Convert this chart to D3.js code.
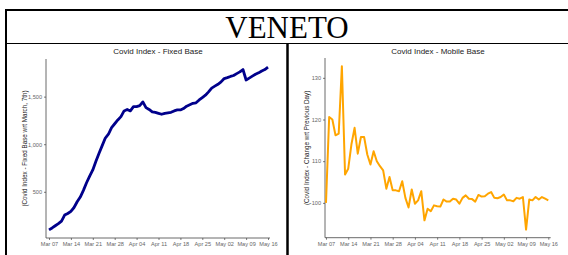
<!DOCTYPE html>
<html><head><meta charset="utf-8">
<script src="https://cdn.jsdelivr.net/npm/d3@7"></script>
<style>body{margin:0;background:#fff}svg{display:block}</style>
</head><body><svg id="c" width="568" height="255"></svg>
<script>
const regionTitle = "VENETO";
const chartTitles = ["Covid Index - Fixed Base", "Covid Index - Mobile Base"];
const yAxisTitles = ["(Covid Index - Fixed Base wrt March, 7th)", "(Covid Index - Change wrt Previous Day)"];
const firstDay = "2020-03-07";
const xTickLabels = ["Mar 07","Mar 14","Mar 21","Mar 28","Apr 04","Apr 11","Apr 18","Apr 25","May 02","May 09","May 16"];
const fixedTicks = [500, 1000, 1500];
const mobileTicks = [100, 110, 120, 130];
const fixedBase = [100,120,143,165,192,255,272,295,335,395,445,515,595,665,730,820,905,985,1065,1105,
  1175,1215,1255,1290,1350,1365,1350,1395,1395,1405,1445,1385,1365,1340,1335,1325,1315,1325,1330,1335,
  1350,1360,1360,1375,1400,1415,1430,1435,1465,1490,1515,1550,1590,1610,1630,1655,1690,1700,1712,1722,
  1742,1760,1785,1675,1695,1715,1735,1750,1770,1785,1810];
const mobileBase = [100,120.6,120,116.2,116.6,132.8,106.8,108.2,114,118,111.8,115.8,115.8,111.6,109.2,112.4,110,108.8,107.8,103.4,
  106.2,103,103,102.8,105.2,101.2,98.9,103.2,99.8,100.6,102.8,95.8,98.6,98,99.4,99.2,99.1,100.8,100.3,100.3,
  101,100.8,99.8,101.2,101.8,101,100.9,100.3,101.9,101.5,101.6,102.2,102.6,101.2,101.1,101.4,102,100.6,100.6,100.4,
  101.2,101,101.4,93.6,100.8,100.6,101.4,100.8,101.4,101,100.6];

const svg = d3.select("#c");
const parseDay = d3.timeParse("%Y-%m-%d");
const parseTick = d3.timeParse("%b %d %Y");
const start = parseDay(firstDay);
const tickDates = xTickLabels.map(l => parseTick(l + " 2020"));

// table frame
const frame = svg.append("g").attr("stroke", "#000").attr("fill", "none");
frame.append("line").attr("x1", 5).attr("x2", 568).attr("y1", 10).attr("y2", 10).attr("stroke-width", 2);
frame.append("line").attr("x1", 6).attr("x2", 6).attr("y1", 9).attr("y2", 255).attr("stroke-width", 2);
frame.append("line").attr("x1", 6).attr("x2", 568).attr("y1", 43.5).attr("y2", 43.5).attr("stroke-width", 1.2);
frame.append("line").attr("x1", 287.5).attr("x2", 287.5).attr("y1", 43).attr("y2", 255).attr("stroke-width", 2.5);

svg.append("text").attr("x", 287).attr("y", 38).attr("text-anchor", "middle")
  .attr("font-family", "'Liberation Serif','Times New Roman',serif").attr("font-size", 31)
  .attr("fill", "#000").text(regionTitle);

function drawChart(cfg) {
  const g = svg.append("g").attr("font-family", "'Liberation Sans',Arial,sans-serif");
  const values = cfg.values;
  const days = values.map((v, i) => d3.timeDay.offset(start, i));
  const x = d3.scaleTime().domain([tickDates[0], tickDates[tickDates.length - 1]]).range(cfg.xTickRange);
  const [lo, hi] = d3.extent(values);
  const pad = (hi - lo) * 0.05;
  const y = d3.scaleLinear().domain([lo - pad, hi + pad]).range([cfg.bottom, cfg.top]);

  g.append("text").attr("x", cfg.titleX).attr("y", 54).attr("text-anchor", "middle")
    .attr("font-size", 8).attr("fill", "#222").text(cfg.title);

  const xa = g.append("g").attr("transform", `translate(0,${cfg.bottom})`)
    .call(d3.axisBottom(x).tickValues(tickDates).tickFormat((d, i) => xTickLabels[i]).tickSizeOuter(0).tickSize(2).tickPadding(2));
  xa.select(".domain").attr("d", `M${cfg.axisLeft},0H${cfg.axisRight}`).attr("stroke", "#444").attr("stroke-width", 0.8);
  xa.selectAll(".tick line").attr("stroke", "#444").attr("stroke-width", 0.7);
  xa.selectAll("text").attr("font-size", 5.6).attr("fill", "#666").attr("font-family", "'Liberation Sans',Arial,sans-serif");

  const ya = g.append("g").attr("transform", `translate(${cfg.axisLeft},0)`)
    .call(d3.axisLeft(y).tickValues(cfg.ticks).tickSizeOuter(0).tickSize(2).tickPadding(2));
  ya.select(".domain").attr("d", `M0,${cfg.top}V${cfg.bottom}`).attr("stroke", "#444").attr("stroke-width", 0.8);
  ya.selectAll(".tick line").attr("stroke", "#444").attr("stroke-width", 0.7);
  ya.selectAll("text").attr("font-size", 5.6).attr("fill", "#666").attr("font-family", "'Liberation Sans',Arial,sans-serif");

  const cy = (cfg.top + cfg.bottom) / 2;
  g.append("text").attr("transform", `translate(${cfg.yTitleX},${cy}) rotate(-90)`)
    .attr("text-anchor", "middle").attr("font-size", 6.3).attr("fill", "#222").text(cfg.yTitle);

  const line = d3.line().x((d, i) => x(days[i])).y(d => y(d)).curve(d3.curveLinear);
  g.append("path").datum(values).attr("d", line).attr("fill", "none")
    .attr("stroke", cfg.color).attr("stroke-width", cfg.lineWidth).attr("stroke-linejoin", "round").attr("stroke-linecap", "butt");
}

drawChart({
  values: fixedBase, ticks: fixedTicks, title: chartTitles[0], yTitle: yAxisTitles[0],
  xTickRange: [49, 268], axisLeft: 46, axisRight: 270, top: 59, bottom: 238,
  titleX: 158, yTitleX: 27, color: "#00008B", lineWidth: 2.8
});
drawChart({
  values: mobileBase, ticks: mobileTicks, title: chartTitles[1], yTitle: yAxisTitles[1],
  xTickRange: [326, 548.3], axisLeft: 325, axisRight: 550.7, top: 58, bottom: 237.7,
  titleX: 438, yTitleX: 309, color: "#FFA500", lineWidth: 2
});
</script></body></html>
